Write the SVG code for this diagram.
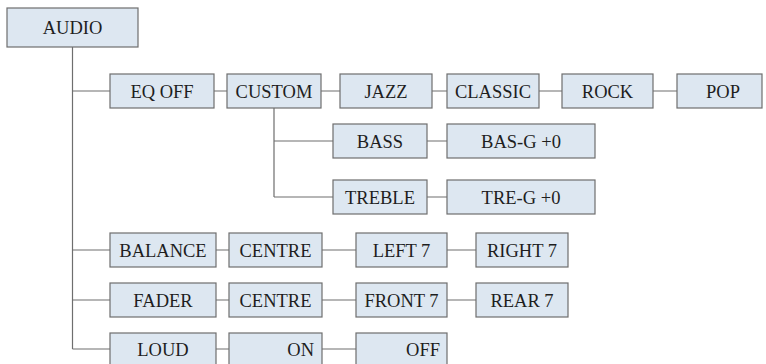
<svg xmlns="http://www.w3.org/2000/svg" width="766" height="364" viewBox="0 0 766 364">
<style>
.b{fill:#dde7f1;stroke:#6e6e6e;stroke-width:1.2}
.t{font-family:"Liberation Serif","Times New Roman",serif;font-size:18.5px;fill:#1e1e1e;text-anchor:middle}
.e{text-anchor:end}
.c{stroke:#6e6e6e;stroke-width:1.2;fill:none}
</style>
<rect width="766" height="364" fill="#ffffff"/>
<g id="connectors" class="c">
<path d="M72.5 47V349"/>
<path d="M72.5 91H110M214 91H227M321 91H340M432 91H447M539 91H562M653 91H677"/>
<path d="M274 108V197M274 141H333M274 197H333M427 141H447M427 197H447"/>
<path d="M72.5 250H110M216 250H229M322 250H356M447 250H476"/>
<path d="M72.5 300H110M216 300H229M322 300H356M447 300H476"/>
<path d="M72.5 349H110M216 349H229M322 349H356"/>
</g>
<g id="audio"><rect class="b" x="7" y="8" width="131" height="39"/><text class="t" x="72.5" y="34">AUDIO</text></g>
<g id="eqoff"><rect class="b" x="110" y="74" width="104" height="34"/><text class="t" x="162" y="97.5">EQ OFF</text></g>
<g id="custom"><rect class="b" x="227" y="74" width="94" height="34"/><text class="t" x="274" y="97.5">CUSTOM</text></g>
<g id="jazz"><rect class="b" x="340" y="74" width="92" height="34"/><text class="t" x="386" y="97.5">JAZZ</text></g>
<g id="classic"><rect class="b" x="447" y="74" width="92" height="34"/><text class="t" x="493" y="97.5">CLASSIC</text></g>
<g id="rock"><rect class="b" x="562" y="74" width="91" height="34"/><text class="t" x="607.5" y="97.5">ROCK</text></g>
<g id="pop"><rect class="b" x="677" y="74" width="85" height="34"/><text class="t" x="723" y="97.5">POP</text></g>
<g id="bass"><rect class="b" x="333" y="124" width="94" height="34"/><text class="t" x="380" y="147.5">BASS</text></g>
<g id="basg"><rect class="b" x="447" y="124" width="148" height="34"/><text class="t" x="521" y="147.5">BAS-G +0</text></g>
<g id="treble"><rect class="b" x="333" y="180" width="94" height="34"/><text class="t" x="380" y="203.5">TREBLE</text></g>
<g id="treg"><rect class="b" x="447" y="180" width="148" height="34"/><text class="t" x="521" y="203.5">TRE-G +0</text></g>
<g id="balance"><rect class="b" x="110" y="233" width="106" height="34"/><text class="t" x="163" y="256.5">BALANCE</text></g>
<g id="centre1"><rect class="b" x="229" y="233" width="93" height="34"/><text class="t" x="275.5" y="256.5">CENTRE</text></g>
<g id="left7"><rect class="b" x="356" y="233" width="91" height="34"/><text class="t" x="401.5" y="256.5">LEFT 7</text></g>
<g id="right7"><rect class="b" x="476" y="233" width="92" height="34"/><text class="t" x="522" y="256.5">RIGHT 7</text></g>
<g id="fader"><rect class="b" x="110" y="283" width="106" height="34"/><text class="t" x="163" y="306.5">FADER</text></g>
<g id="centre2"><rect class="b" x="229" y="283" width="93" height="34"/><text class="t" x="275.5" y="306.5">CENTRE</text></g>
<g id="front7"><rect class="b" x="356" y="283" width="91" height="34"/><text class="t" x="401.5" y="306.5">FRONT 7</text></g>
<g id="rear7"><rect class="b" x="476" y="283" width="92" height="34"/><text class="t" x="522" y="306.5">REAR 7</text></g>
<g id="loud"><rect class="b" x="110" y="333" width="106" height="34"/><text class="t" x="163" y="356">LOUD</text></g>
<g id="on"><rect class="b" x="229" y="333" width="93" height="34"/><text class="t e" x="314" y="356">ON</text></g>
<g id="off"><rect class="b" x="356" y="333" width="91" height="34"/><text class="t e" x="440" y="356">OFF</text></g>
</svg>
